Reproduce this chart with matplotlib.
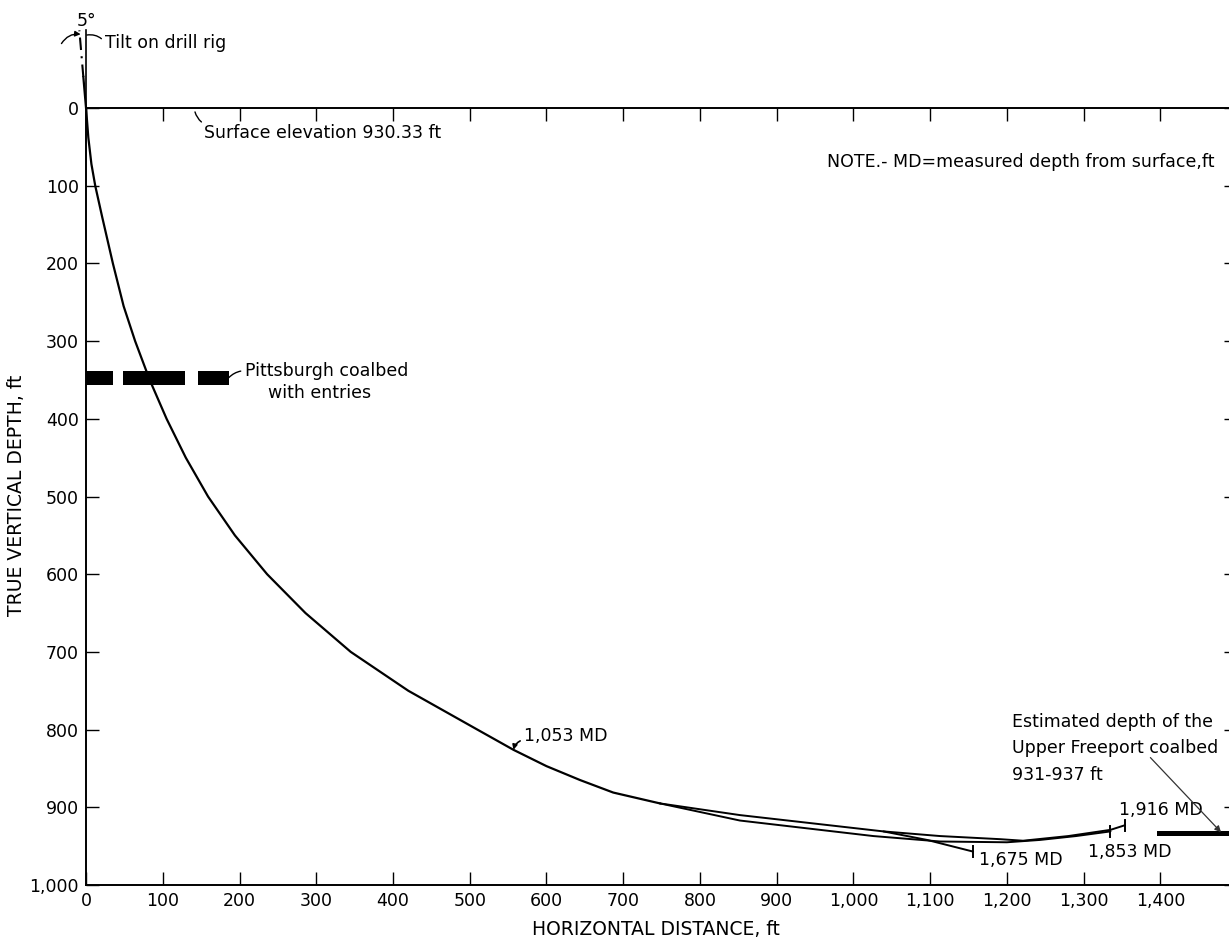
import matplotlib.pyplot as plt

# --- data (ft) ---
# common trajectory from surface to the branch point
main_x = [0, 3, 7, 12, 21, 35, 49, 64, 83, 105, 130, 159, 194, 236, 286, 345,
          420, 465, 510, 557, 600, 644, 687, 748]
main_y = [0, 38, 72, 100, 140, 200, 255, 300, 350, 400, 450, 500, 550, 600, 650, 700,
          750, 775, 800, 826, 847, 865, 881, 895]

# original hole, ends at 1,675 MD
hole1_x = [748, 852, 950, 1039, 1096, 1156]
hole1_y = [895, 910, 921, 931, 942, 957]

# sidetrack ending at 1,853 MD
hole2_x = [748, 852, 939, 1026, 1113, 1200, 1243, 1290, 1335]
hole2_y = [895, 917, 927, 937, 944, 945, 942, 937, 931]

# sidetrack ending at 1,916 MD
hole3_x = [1039, 1113, 1191, 1221, 1280, 1335, 1354]
hole3_y = [931, 937, 941, 943, 937, 929, 923]

md_labels = ["1,053 MD", "1,675 MD", "1,853 MD", "1,916 MD"]
md_x = [557, 1156, 1335, 1354]
md_y = [826, 957, 931, 923]

# Pittsburgh coalbed with entries (dashed band)
coal_start = [0, 48, 146]
coal_end = [35, 129, 186]
coal_top, coal_bottom = 339, 356

# Upper Freeport coalbed estimate
freeport_x = [1395, 1500]
freeport_top, freeport_bottom = 931, 937

xticks = list(range(0, 1501, 100))
yticks = list(range(0, 1001, 100))


def fmt(v):
    return f"{v:,}"


# --- drawing ---
plt.rcParams['font.family'] = ['DejaVu Sans']
fig = plt.figure(figsize=(12.29, 9.42), dpi=100)
ax = fig.add_axes([0.070, 0.0605, 0.9366, 0.8248])

ax.set_xlim(0, 1500)
ax.set_ylim(1000, 0)

line_kw = dict(color='black', solid_joinstyle='round', solid_capstyle='round')
ax.plot(main_x, main_y, lw=1.6, **line_kw)
ax.plot(hole1_x, hole1_y, lw=1.4, **line_kw)
ax.plot(hole2_x, hole2_y, lw=1.4, **line_kw)
ax.plot(hole3_x, hole3_y, lw=1.4, **line_kw)

# MD ticks at hole ends
for x, y in zip(md_x[1:], md_y[1:]):
    ax.plot([x, x], [y - 7, y + 7], color='black', lw=1.4)

# coal beds
for s, e in zip(coal_start, coal_end):
    ax.fill_between([s, e], coal_top, coal_bottom, color='black', lw=0)
ax.fill_between(freeport_x, freeport_top, freeport_bottom, color='black', lw=0)

# tilt on drill rig (above surface)
ax.plot([0, 0], [0, -100], color='black', lw=1.2, clip_on=False)
ax.plot([0, -3.5], [0, -40], color='black', lw=1.6, clip_on=False)
ax.plot([-3.5, -8.7], [-40, -100], color='black', lw=1.5, ls=(0, (6, 3, 1, 3)),
        clip_on=False)
ax.text(0, -112, "5°", fontsize=12.5, ha='center', va='center')
ax.annotate("", xy=(-7, -95), xytext=(-32, -83), annotation_clip=False,
            arrowprops=dict(arrowstyle='-|>', color='black', lw=1,
                            connectionstyle='arc3,rad=-0.3', mutation_scale=8,
                            shrinkA=0, shrinkB=0))
ax.annotate("Tilt on drill rig", xy=(1, -94), xytext=(25, -84),
            fontsize=12.5, va='center', annotation_clip=False,
            arrowprops=dict(arrowstyle='-', color='black', lw=1,
                            connectionstyle='arc3,rad=0.3', relpos=(0, 0.5),
                            shrinkA=1, shrinkB=0))

# annotations
ax.annotate("Surface elevation 930.33 ft", xy=(142, 5), xytext=(154, 32),
            fontsize=12.5, va='center',
            arrowprops=dict(arrowstyle='-', color='black', lw=1,
                            connectionstyle='arc3,rad=-0.2', relpos=(0, 1),
                            shrinkA=0, shrinkB=0))
ax.text(965, 70, "NOTE.- MD=measured depth from surface,ft", fontsize=12.5,
        va='center')
ax.annotate("Pittsburgh coalbed", xy=(186, 347), xytext=(207, 338),
            fontsize=12.5, va='center',
            arrowprops=dict(arrowstyle='-', color='black', lw=1,
                            connectionstyle='arc3,rad=0.2', relpos=(0, 0.5),
                            shrinkA=1, shrinkB=0))
ax.text(237, 367, "with entries", fontsize=12.5, va='center')

ax.annotate(md_labels[0], xy=(md_x[0], md_y[0]), xytext=(571, 808),
            fontsize=12.5, va='center',
            arrowprops=dict(arrowstyle='-|>', color='black', lw=1.2,
                            connectionstyle='arc3,rad=0.3', relpos=(0, 0.3),
                            mutation_scale=7, shrinkA=1, shrinkB=0))
ax.text(1163, 968, md_labels[1], fontsize=12.5, va='center')
ax.text(1306, 958, md_labels[2], fontsize=12.5, va='center')
ax.text(1346, 903, md_labels[3], fontsize=12.5, va='center')

ax.text(1207, 790, "Estimated depth of the", fontsize=12.5, va='center')
ax.text(1207, 824, "Upper Freeport coalbed", fontsize=12.5, va='center')
ax.text(1207, 858, "931-937 ft", fontsize=12.5, va='center')
ax.annotate("", xy=(1479, 932), xytext=(1387, 836), annotation_clip=False,
            arrowprops=dict(arrowstyle='-|>', color='#333333', lw=0.9,
                            mutation_scale=9, shrinkA=0, shrinkB=0))

# axes styling
ax.set_xticks(xticks)
ax.set_xticklabels([fmt(v) if v < 1500 else "" for v in xticks])
ax.set_yticks(yticks)
ax.set_yticklabels([fmt(v) for v in yticks])
ax.tick_params(direction='in', length=9.5, width=1, top=True, right=True,
               labelsize=12.5, pad=5)
for sp in ax.spines.values():
    sp.set_linewidth(1.4)

ax.set_xlabel("HORIZONTAL DISTANCE, ft", fontsize=13.5)
ax.xaxis.set_label_coords(743 / 1500, -0.045)
ax.set_ylabel("TRUE VERTICAL DEPTH, ft", fontsize=13.5)
ax.yaxis.set_label_coords(-0.052, 0.502)

fig.savefig("out.png", dpi=100)
